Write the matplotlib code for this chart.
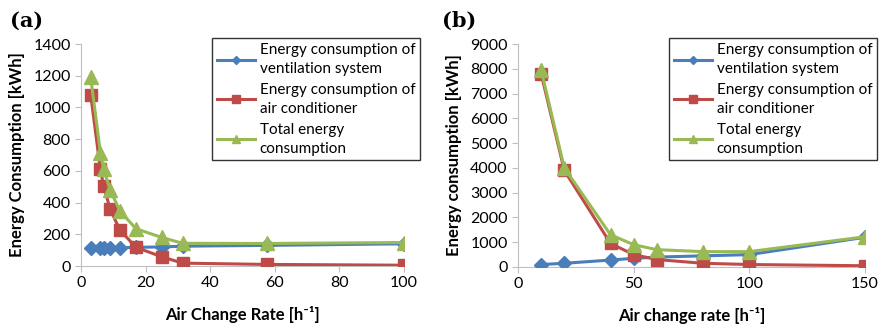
import matplotlib.pyplot as plt

# panel (a)
ach_a = [3, 6, 7, 9, 12, 17, 25, 31.5, 57.5, 100]
vent_a = [115, 115, 115, 115, 115, 118, 120, 125, 130, 140]
ac_a = [1080, 610, 505, 360, 228, 118, 58, 18, 10, 5]
total_a = [1190, 715, 610, 482, 348, 235, 180, 143, 142, 148]

# panel (b)
ach_b = [10, 20, 40, 50, 60, 80, 100, 150]
vent_b = [100, 150, 280, 350, 400, 450, 500, 1200]
ac_b = [7800, 3900, 950, 500, 300, 150, 100, 50]
total_b = [7950, 4000, 1300, 900, 700, 620, 620, 1220]

series_labels = [
    "Energy consumption of\nventilation system",
    "Energy consumption of\nair conditioner",
    "Total energy\nconsumption",
]
BLUE, RED, GREEN = "#4A7EBB", "#BE4B48", "#98B954"

plt.rcParams["font.family"] = ["Lato", "DejaVu Sans"]

fig = plt.figure(figsize=(8.81, 3.24), dpi=100)
W, H = 881, 324
ax_a = fig.add_axes([81 / W, 1 - 266 / H, (404 - 81) / W, (266 - 44) / H])
ax_b = fig.add_axes([518 / W, 1 - 267 / H, (865 - 518) / W, (267 - 44) / H])


def draw(ax, x, vent, ac, total, xlim, xticks, ylim, yticks, ylabel, xlabel, tag, legend_right):
    ax.plot(x, vent, color=BLUE, lw=2.2, marker="D", ms=7.5, label=series_labels[0], zorder=3)
    ax.plot(x, ac, color=RED, lw=2.2, marker="s", ms=9, label=series_labels[1], zorder=4)
    ax.plot(x, total, color=GREEN, lw=2.2, marker="^", ms=10, label=series_labels[2], zorder=5)
    ax.set_xlim(*xlim)
    ax.set_ylim(*ylim)
    ax.set_xticks(xticks)
    ax.set_yticks(yticks)
    for s in ["top", "right"]:
        ax.spines[s].set_visible(False)
    for s in ["left", "bottom"]:
        ax.spines[s].set_color("#BFBFBF")
    ax.tick_params(colors="#BFBFBF", labelcolor="black", labelsize=11.5, length=4)
    ax.set_ylabel(ylabel, fontsize=12, fontweight="bold", labelpad=6)
    ax.set_xlabel(xlabel, fontsize=12, fontweight="bold", labelpad=11)
    leg = ax.legend(loc="upper right", bbox_to_anchor=(legend_right, 1.025), frameon=True, fancybox=False,
                    fontsize=11, handlelength=2.5, handletextpad=0.3, borderpad=0.3,
                    labelspacing=0.45, markerscale=0.6, borderaxespad=0)
    for t in leg.get_texts():
        t.set_linespacing(1.45)
    leg.get_frame().set_edgecolor("black")
    leg.get_frame().set_linewidth(1.0)
    ax.text(-0.22, 1.06, tag, transform=ax.transAxes, fontsize=15, fontweight="bold",
            family="DejaVu Serif", va="bottom", ha="left")


draw(ax_a, ach_a, vent_a, ac_a, total_a, (0, 100), range(0, 101, 20), (0, 1400),
     range(0, 1401, 200), "Energy Consumption [kWh]", "Air Change Rate [h⁻¹]", "(a)",
     (420 - 81) / (404 - 81))
draw(ax_b, ach_b, vent_b, ac_b, total_b, (0, 150), range(0, 151, 50), (0, 9000),
     range(0, 9001, 1000), "Energy consumption [kWh]", "Air change rate [h⁻¹]", "(b)",
     (877 - 518) / (865 - 518))

fig.savefig("out.png", dpi=100)
